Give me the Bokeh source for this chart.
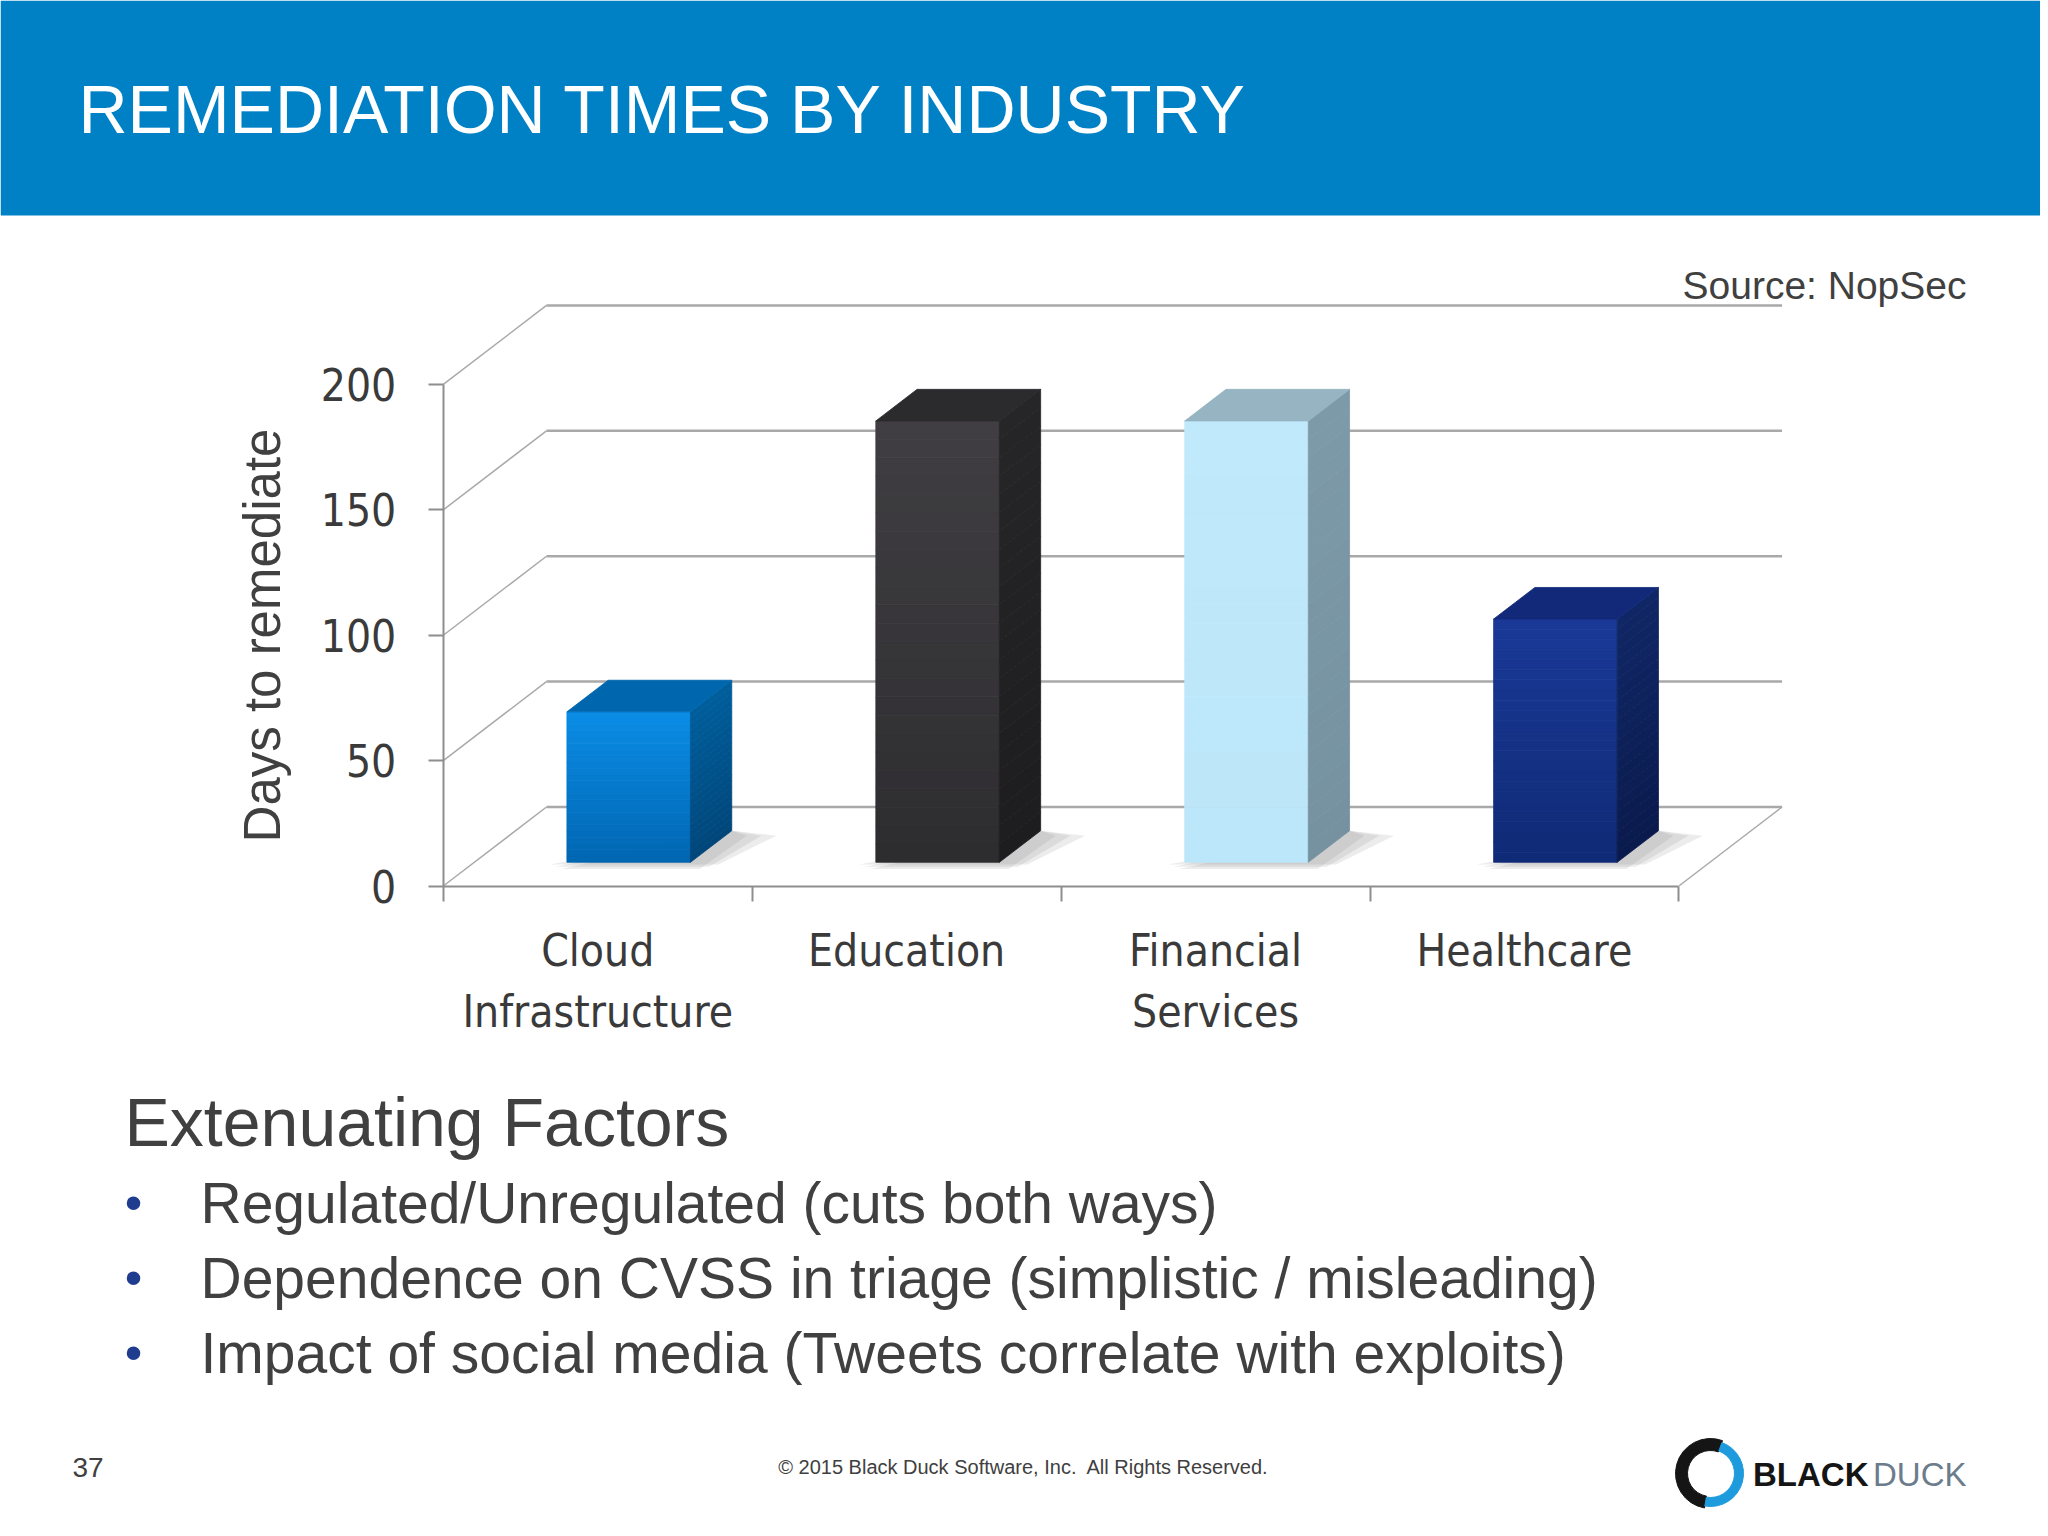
from bokeh.plotting import figure
from bokeh.models import Range1d, LinearAxis, FixedTicker, BoxAnnotation
from bokeh.core.properties import value
from bokeh.embed import file_html
from bokeh.resources import INLINE

# ---- data ----
industries = ["Cloud\nInfrastructure", "Education", "Financial\nServices", "Healthcare"]
days = [60, 176, 176, 97]
y_ticks = [0, 50, 100, 150, 200]

front_top = ["#0B8DE6", "#403E42", "#C0E9FB", "#1A3997"]
front_bottom = ["#0066B2", "#2D2C2F", "#BCE6F9", "#0F2A76"]
side_top = ["#005E9C", "#262528", "#7D9AA8", "#102766"]
side_bottom = ["#00467A", "#1D1C1F", "#7692A0", "#0A1A4C"]
top_face = ["#0067AF", "#2B2A2D", "#97B4C3", "#12297A"]

title = "REMEDIATION TIMES BY INDUSTRY"
source = "Source: NopSec"
heading = "Extenuating Factors"
bullets = [
    "Regulated/Unregulated (cuts both ways)",
    "Dependence on CVSS in triage (simplistic / misleading)",
    "Impact of social media (Tweets correlate with exploits)",
]
page_no = "37"
copyright_txt = "\u00a9 2015 Black Duck Software, Inc.\u00a0 All Rights Reserved."

W, H = 2040, 1528
SANS = "Liberation Sans"
NARROW = "'DejaVu Sans Condensed', 'Liberation Sans'"
TXT = "#404040"
GRID = "#A9A9A9"

# page pixel -> data helpers (axis origin at page pixel AX, AY)
AX, AY = 442.8, 885.5
PX_CAT, PX_UNIT = 308.9, 2.5077


def X(px):
    return (px - AX) / PX_CAT


def Y(py):
    return (AY - py) / PX_UNIT


def blend(c1, c2, t):
    a = [int(c1[i:i + 2], 16) for i in (1, 3, 5)]
    b = [int(c2[i:i + 2], 16) for i in (1, 3, 5)]
    return "#%02x%02x%02x" % tuple(round(a[k] + (b[k] - a[k]) * t) for k in range(3))


p = figure(width=W, height=H, x_range=Range1d(X(0), X(W)), y_range=Range1d(Y(H), Y(0)),
           output_backend="svg", toolbar_location=None, x_axis_type=None, y_axis_type=None,
           min_border=0)
p.grid.visible = False
p.outline_line_color = None

# ---- header band ----
p.add_layout(BoxAnnotation(left=X(0), right=X(W), top=Y(0), bottom=Y(215),
                           fill_color="#0081C6", fill_alpha=1, line_color=None, level="underlay"))
p.text([X(78)], [Y(108)], text=[title], text_font=value(SANS), text_font_size="68px",
       text_color="white", text_baseline="middle")

# ---- 3D bar chart ----
DX, DY = 0.334, 31.5          # depth offset of the back wall
F0, F1, HW = 0.3, 0.7, 0.2    # bar depth span and half width
ncat = len(industries)

p.multi_line([[DX, ncat + DX] for _ in y_ticks], [[v + DY, v + DY] for v in y_ticks],
             line_color=GRID, line_width=2.5)
p.multi_line([[0, DX] for _ in y_ticks], [[v, v + DY] for v in y_ticks],
             line_color=GRID, line_width=1.5)
p.line([ncat, ncat + DX], [0, DY], line_color=GRID, line_width=1.5)

for i, val in enumerate(days):
    c = i + 0.5
    xl, xr = c - HW + F0 * DX, c + HW + F0 * DX
    xb = c + HW + F1 * DX
    y0, y1 = F0 * DY, F1 * DY
    # soft floor shadow
    for k, grow in enumerate([0.09, 0.06, 0.03]):
        p.patch([xl - grow * 0.6, xr + grow, xb + grow * 1.6, xb],
                [y0 - 0.9 * (k + 1), y0 - 0.9 * (k + 1), y1 - 2, y1],
                fill_color="#777777", fill_alpha=0.14, line_color=None)
    n = 24
    fc = [blend(front_bottom[i], front_top[i], (k + 0.5) / n) for k in range(n)]
    p.quad(left=[xl] * n, right=[xr] * n,
           bottom=[y0 + val * k / n for k in range(n)],
           top=[y0 + val * (k + 1) / n for k in range(n)],
           fill_color=fc, line_color=fc, line_width=0.8)
    sc = [blend(side_bottom[i], side_top[i], (k + 0.5) / n) for k in range(n)]
    p.patches([[xr, xb, xb, xr] for k in range(n)],
              [[y0 + val * k / n, y1 + val * k / n, y1 + val * (k + 1) / n, y0 + val * (k + 1) / n]
               for k in range(n)],
              fill_color=sc, line_color=sc, line_width=0.8)
    p.patch([xl, xr, xb, xl + (F1 - F0) * DX], [y0 + val, y0 + val, y1 + val, y1 + val],
            fill_color=top_face[i], line_color=top_face[i], line_width=0.8)

xaxis = LinearAxis(
    fixed_location=0,
    ticker=FixedTicker(ticks=[i + 0.5 for i in range(ncat)], minor_ticks=list(range(ncat + 1))),
    bounds=(0, ncat),
    major_label_overrides={i + 0.5: industries[i] for i in range(ncat)},
    major_tick_in=0, major_tick_out=0, minor_tick_in=0, minor_tick_out=15,
    axis_line_color="#8E8E8E", axis_line_width=2,
    minor_tick_line_color="#8E8E8E", minor_tick_line_width=2,
    major_label_text_font=NARROW, major_label_text_font_size="44px",
    major_label_text_color="#3A3A3A", major_label_standoff=24)
p.add_layout(xaxis, "below")

yaxis = LinearAxis(
    fixed_location=0,
    ticker=FixedTicker(ticks=y_ticks, minor_ticks=[]), bounds=(0, 200),
    major_tick_in=0, major_tick_out=15,
    axis_line_color="#8E8E8E", axis_line_width=2,
    major_tick_line_color="#8E8E8E", major_tick_line_width=2,
    major_label_text_font=NARROW, major_label_text_font_size="44px",
    major_label_text_color="#3A3A3A", major_label_standoff=32,
    axis_label="Days to remediate", axis_label_text_font=SANS,
    axis_label_text_font_size="51px", axis_label_text_font_style="normal",
    axis_label_text_color=TXT, axis_label_standoff=27)
p.add_layout(yaxis, "left")

p.text([X(1966)], [Y(285)], text=[source], text_font=value(SANS), text_font_size="39px",
       text_color=TXT, text_baseline="middle", text_align="right")

# ---- text block and footer ----
p.text([X(124)], [Y(1121)], text=[heading], text_font=value(SANS), text_font_size="68px",
       text_color=TXT, text_baseline="middle")
rows = [Y(v) for v in (1202, 1277, 1352)]
p.text([X(133)] * len(bullets), rows, text=["\u2022"] * len(bullets), text_font=value(SANS),
       text_font_size="50px", text_color="#1F3C8E", text_baseline="middle", text_align="center")
p.text([X(200)] * len(bullets), rows, text=bullets, text_font=value(SANS),
       text_font_size="57px", text_color=TXT, text_baseline="middle")
p.text([X(72)], [Y(1467)], text=[page_no], text_font=value(SANS), text_font_size="28px",
       text_color=TXT, text_baseline="middle")
p.text([X(1023)], [Y(1466)], text=[copyright_txt], text_font=value(SANS), text_font_size="20px",
       text_color=TXT, text_baseline="middle", text_align="center")
# logo
p.annular_wedge([X(1710)], [Y(1473)], inner_radius=23, outer_radius=35,
                inner_radius_units="screen", outer_radius_units="screen",
                start_angle=1.22, end_angle=4.54, color="#151515")
p.annular_wedge([X(1710)], [Y(1473)], inner_radius=24, outer_radius=33,
                inner_radius_units="screen", outer_radius_units="screen",
                start_angle=4.54, end_angle=7.50, color="#1E9BDC")
p.text([X(1868)], [Y(1474)], text=["BLACK"], text_font=value(SANS), text_font_size="33px",
       text_font_style="bold", text_color="#151515", text_baseline="middle", text_align="right")
p.text([X(1966)], [Y(1474)], text=["DUCK"], text_font=value(SANS), text_font_size="33px",
       text_color="#6B7C8C", text_baseline="middle", text_align="right")

open("out.html", "w").write(file_html(p, INLINE))
